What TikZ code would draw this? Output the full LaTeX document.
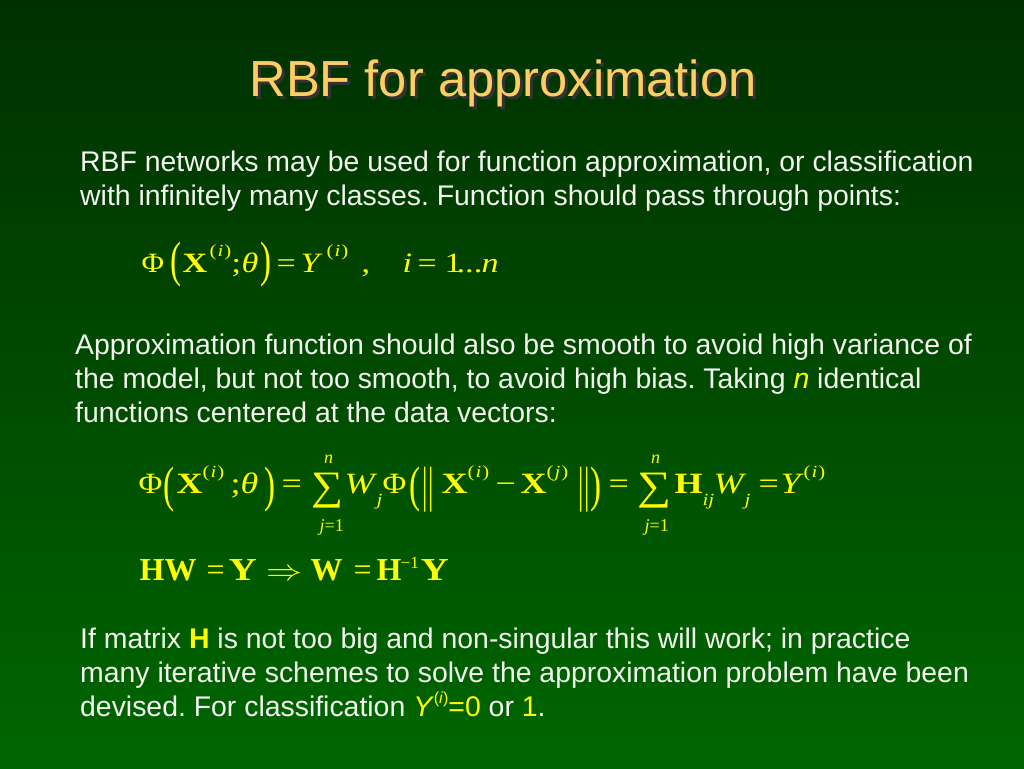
\documentclass[tikz,border=0pt]{standalone}
\usepackage{fontspec}
\usepackage{graphicx}
\setmainfont{Liberation Sans}
\newfontfamily\tnr{Liberation Serif}
\definecolor{ttl}{HTML}{FFCC66}
\definecolor{ylw}{HTML}{FFFF00}
\definecolor{bgtop}{HTML}{003000}
\definecolor{bgbot}{HTML}{006600}
\definecolor{txt}{HTML}{F4F4F0}
\frenchspacing
\newcommand\bodyfont{\fontsize{28.4}{34}\selectfont}
\newcommand\mfonta{\tnr\fontsize{28}{34}\selectfont}
\newcommand\mfont{\tnr\fontsize{29.5}{34}\selectfont}
\newcommand\mfontb{\tnr\fontsize{32}{36}\selectfont}
% piece placed at an offset from the node's left edge, stretched horizontally
\newcommand\pc[2]{\rlap{\hskip#1pt\relax\scalebox{1.22}[1]{#2}}}
% piece placed at an offset, slightly stretched
\newcommand\pcm[2]{\rlap{\hskip#1pt\relax\scalebox{1.1}[1]{#2}}}
% piece placed at an offset, not stretched
\newcommand\pcn[2]{\rlap{\hskip#1pt\relax#2}}
% superscript (letter) raised by #1 pt
\newcommand\sups[2]{\raisebox{#1pt}{\fontsize{17}{17}\selectfont(\kern0.8pt\textit{#2}\kern0.8pt)}}
% subscript lowered
\newcommand\subs[1]{\raisebox{-12pt}{\fontsize{17}{17}\selectfont\itshape #1}}
% tall glyph: height, width, depth, glyph
\newcommand\tall[4]{\raisebox{-#3pt}{\resizebox{#2pt}{#1pt}{\raisebox{\depth}{#4}}}}
\newcommand\limup[1]{\makebox[0pt]{\raisebox{30pt}{\fontsize{18}{18}\selectfont\itshape #1}}}
\newcommand\limdn{\makebox[0pt]{\raisebox{-38pt}{\fontsize{18}{18}\selectfont\textit{j}=1}}}
\tikzset{
  body/.style={anchor=base west, inner sep=0pt, text=txt, font=\bodyfont},
  mathline/.style={anchor=base west, inner sep=0pt, text=ylw, font=\mfont},
}
\begin{document}
\begin{tikzpicture}[x=1pt,y=-1pt]
\shade[top color=bgtop, bottom color=bgbot] (0,0) rectangle (1024,768);
\useasboundingbox (0,0) rectangle (1024,768);
% title
\node[anchor=base, inner sep=0pt, text=black!80, font=\fontsize{50.7}{60}\selectfont] (tshadow) at (506,99) {RBF for approximation};
\node[anchor=base, inner sep=0pt, text=ttl, font=\fontsize{50.7}{60}\selectfont] (title) at (503,96) {RBF for approximation};
% paragraph 1
\node[body] (p1a) at (80,171) {RBF networks may be used for function approximation, or classification};
\node[body] (p1b) at (80,205) {with infinitely many classes. Function should pass through points:};
% equation 1
\node[mathline, font=\mfonta] (eq1) at (141,272) {%
\pcm{0}{Φ}%
\pcn{29}{\tall{45}{11}{15}{(}}%
\pc{41}{\textbf{X}}%
\pc{68}{\sups{16}{i}}%
\pc{90}{;}%
\pc{100}{\textit{θ}}%
\pcn{119}{\tall{45}{11}{15}{)}}%
\pc{135}{=}%
\pc{159}{\textit{Y}}%
\pc{185}{\sups{16}{i}}%
\pc{220}{,}%
\pc{261}{\textit{i}}%
\pc{276}{=}%
\pc{303}{1}%
\pc{315}{...}%
\pc{340}{\textit{n}}%
\hskip365pt};
% paragraph 2
\node[body] (p2a) at (75,354) {Approximation function should also be smooth to avoid high variance of};
\node[body] (p2b) at (75,388) {the model, but not too smooth, to avoid high bias. Taking \textcolor{ylw}{\textit{n}} identical};
\node[body] (p2c) at (75,422) {functions centered at the data vectors:};
% equation 2
\node[mathline] (eq2) at (138,493) {%
\pcm{0}{Φ}%
\pcn{25}{\tall{45}{11}{19}{(}}%
\pc{38}{\textbf{X}}%
\pc{64}{\sups{16}{i}}%
\pc{92}{;}%
\pc{102}{\textit{θ}}%
\pcn{126}{\tall{45}{11}{19}{)}}%
\pc{143}{=}%
\pcn{173}{\tall{35}{32}{15}{∑}}%
\pcn{190}{\limup{n}}%
\pcn{193}{\limdn}%
\pc{206}{\textit{W}}%
\pc{238}{\subs{j}}%
\pcm{244}{Φ}%
\pcn{271}{\tall{45}{11}{19}{(}}%
\pcn{284}{\tall{45}{11}{19}{|\kern0.3pt|}}%
\pc{303}{\textbf{X}}%
\pc{329}{\sups{16}{i}}%
\pc{357}{−}%
\pc{382}{\textbf{X}}%
\pc{408}{\sups{16}{j}}%
\pcn{440}{\tall{45}{11}{19}{|\kern0.3pt|}}%
\pcn{452}{\tall{45}{11}{19}{)}}%
\pc{470}{=}%
\pcn{499}{\tall{35}{34}{15}{∑}}%
\pcn{517}{\limup{n}}%
\pcn{518}{\limdn}%
\pc{536}{\textbf{H}}%
\pc{564}{\subs{ij}}%
\pc{575}{\textit{W}}%
\pc{606}{\subs{j}}%
\pc{620}{=}%
\pc{642}{\textit{Y}}%
\pc{665}{\sups{16}{i}}%
\hskip700pt};
% equation 3
\node[mathline, font=\mfontb] (eq3) at (139,580) {%
\pcn{0}{\textbf{HW}}%
\pcn{67}{=}%
\pc{89}{\textbf{Y}}%
\pcn{127}{\scalebox{1.45}[1.2]{$\Rightarrow$}}%
\pcn{171}{\textbf{W}}%
\pcn{214}{=}%
\pcn{237}{\textbf{H}}%
\pcn{261}{\raisebox{11.5pt}{\fontsize{17}{17}\selectfont −1}}%
\pc{281}{\textbf{Y}}%
\hskip312pt};
% paragraph 3
\node[body] (p3a) at (80,648) {If matrix \textcolor{ylw}{\textbf{H}} is not too big and non-singular this will work; in practice};
\node[body] (p3b) at (80,682) {many iterative schemes to solve the approximation problem have been};
\node[body] (p3c) at (80,716) {devised. For classification \textcolor{ylw}{\textit{Y}\raisebox{0.45em}{\fontsize{16}{16}\selectfont(\textit{i})}=0} or \textcolor{ylw}{1}.};
\end{tikzpicture}
\end{document}
